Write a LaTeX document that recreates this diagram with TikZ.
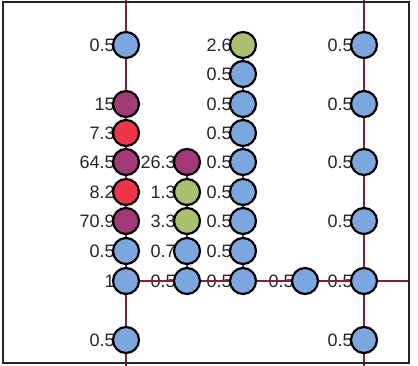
\documentclass[tikz,border=0pt]{standalone}
\usepackage{fontspec}
\setmainfont{Liberation Sans}
\definecolor{cblue}{HTML}{7BA6DE}
\definecolor{cpurple}{HTML}{A23A78}
\definecolor{cred}{HTML}{F0344A}
\definecolor{cgreen}{HTML}{A9C06E}
\definecolor{cline}{HTML}{7B2630}
\pgfdeclarelayer{bg}
\pgfdeclarelayer{lines}
\pgfsetlayers{bg,lines,main}
\tikzset{
  dot/.style={circle, draw=black, line width=2.2pt, minimum size=26pt, inner sep=0pt},
  bl/.style={dot, fill=cblue},
  pu/.style={dot, fill=cpurple},
  rd/.style={dot, fill=cred},
  gr/.style={dot, fill=cgreen},
  val/.style={anchor=east, inner sep=0pt, text=black!85, font=\fontsize{18}{21}\selectfont},
  conn/.style={draw=cline, line width=2pt},
  frame/.style={draw=black!85, line width=2.2pt}
}
\newcommand{\dt}[4]{%
  \node[#1] (#2) at (#3) {};
  \begin{pgfonlayer}{bg}\node[val] (#2l) at ([xshift=3pt]#2.west) {#4};\end{pgfonlayer}}
\begin{document}
\begin{tikzpicture}[x=1pt,y=-1pt]
\useasboundingbox (0,0) rectangle (418,366);
\draw[frame] (3,2) rectangle (409,363);
% column 1
\dt{bl}{a1}{126,45}{0.5}
\dt{pu}{a3}{126,104}{15}
\dt{rd}{a4}{126,133}{7.3}
\dt{pu}{a5}{126,162}{64.5}
\dt{rd}{a6}{126,192}{8.2}
\dt{pu}{a7}{126,221}{70.9}
\dt{bl}{a8}{126,251}{0.5}
\dt{bl}{a9}{126,281}{1}
\dt{bl}{a10}{126,340}{0.5}
% column 2
\dt{pu}{b5}{187,162}{26.3}
\dt{gr}{b6}{187,192}{1.3}
\dt{gr}{b7}{187,221}{3.3}
\dt{bl}{b8}{187,251}{0.7}
\dt{bl}{b9}{187,281}{0.5}
% column 3
\dt{gr}{c1}{243,45}{2.6}
\dt{bl}{c2}{243,74}{0.5}
\dt{bl}{c3}{243,104}{0.5}
\dt{bl}{c4}{243,133}{0.5}
\dt{bl}{c5}{243,162}{0.5}
\dt{bl}{c6}{243,192}{0.5}
\dt{bl}{c7}{243,221}{0.5}
\dt{bl}{c8}{243,251}{0.5}
\dt{bl}{c9}{243,281}{0.5}
% middle
\dt{bl}{m9}{305,281}{0.5}
% column 4
\dt{bl}{d1}{364,45}{0.5}
\dt{bl}{d3}{364,104}{0.5}
\dt{bl}{d5}{364,162}{0.5}
\dt{bl}{d7}{364,221}{0.5}
\dt{bl}{d9}{364,281}{0.5}
\dt{bl}{d10}{364,340}{0.5}
\coordinate (ta) at (126,0);
\coordinate (ba) at (126,366);
\coordinate (td) at (364,0);
\coordinate (bd) at (364,366);
\coordinate (re) at (409,281);
\begin{pgfonlayer}{lines}
\draw[conn] (ta) -- (ba);
\draw[conn] (td) -- (bd);
\draw[conn] (b5) -- (b9);
\draw[conn] (c1) -- (c9);
\draw[conn] (a9) -- (re);
\end{pgfonlayer}
\end{tikzpicture}
\end{document}
